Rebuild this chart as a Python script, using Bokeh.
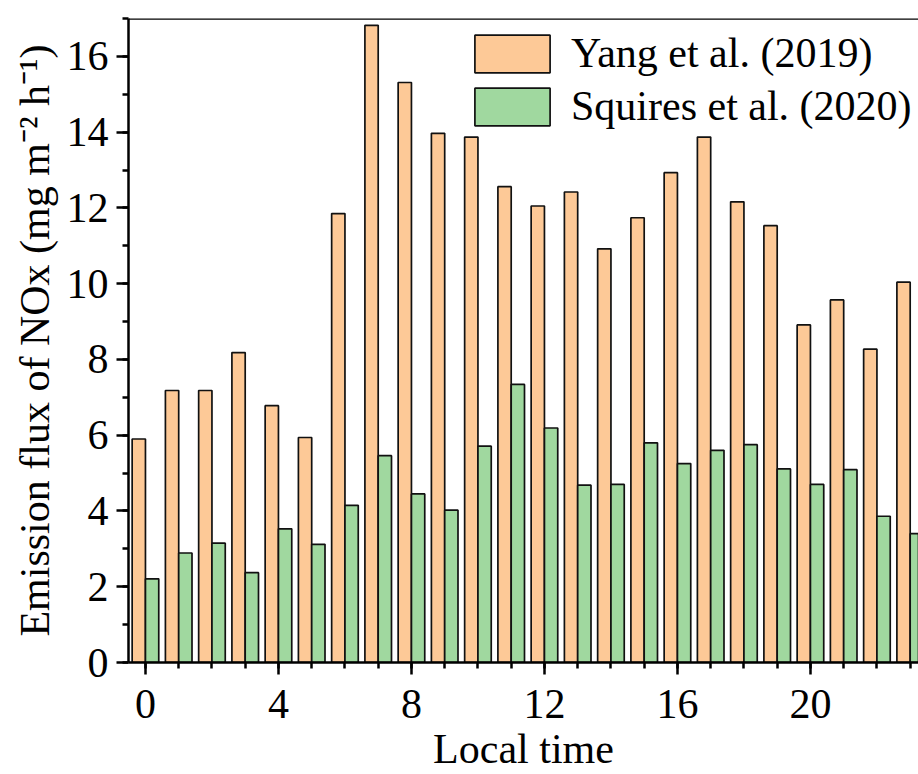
from bokeh.plotting import figure
from bokeh.models import (SingleIntervalTicker, Range1d, Span, Legend, LegendItem,
                          ColumnDataSource)
from bokeh.transform import dodge
from bokeh.embed import file_html
from bokeh.resources import INLINE

hours = list(range(24))
yang = [5.90, 7.18, 7.18, 8.18, 6.78, 5.94, 11.85, 16.82, 15.31, 13.97, 13.87, 12.56,
        12.05, 12.42, 10.92, 11.74, 12.93, 13.87, 12.16, 11.53, 8.91, 9.57, 8.27, 10.04]
squires = [2.21, 2.89, 3.15, 2.37, 3.53, 3.12, 4.15, 5.46, 4.45, 4.02, 5.71, 7.34,
           6.19, 4.68, 4.70, 5.80, 5.25, 5.60, 5.75, 5.11, 4.70, 5.09, 3.86, 3.40]
series_names = ["Yang et al. (2019)", "Squires et al. (2020)"]

FONT = "Liberation Serif"
FS = "42px"
LEG_FS = "42px"
ORANGE = "#FDC997"
GREEN = "#A0D89F"

src = ColumnDataSource(dict(hour=hours, yang=yang, squires=squires))

p = figure(width=918, height=774, output_backend="svg", toolbar_location=None,
           x_range=Range1d(-0.51, 23.25), y_range=Range1d(0, 17),
           min_border_left=128, min_border_right=0, min_border_top=18,
           min_border_bottom=112)

r1 = p.vbar(x=dodge("hour", -0.2, range=p.x_range), top="yang", width=0.4, source=src,
            fill_color=ORANGE, line_color="#111111", line_width=1.7)
r2 = p.vbar(x=dodge("hour", 0.2, range=p.x_range), top="squires", width=0.4, source=src,
            fill_color=GREEN, line_color="#111111", line_width=1.7)

p.outline_line_color = None
p.xgrid.visible = False
p.ygrid.visible = False
p.background_fill_color = "white"
p.border_fill_color = "white"

p.add_layout(Span(location=17, dimension="width", line_color="black", line_width=2.5))

p.xaxis.ticker = SingleIntervalTicker(interval=4, num_minor_ticks=4)
p.yaxis.ticker = SingleIntervalTicker(interval=2, num_minor_ticks=2)

for ax in (p.xaxis[0], p.yaxis[0]):
    ax.axis_line_width = 2.5
    ax.axis_line_color = "black"
    ax.major_tick_line_width = 2.5
    ax.minor_tick_line_width = 2.5
    ax.major_tick_line_color = "black"
    ax.minor_tick_line_color = "black"
    ax.major_tick_in = 0
    ax.major_tick_out = 12
    ax.minor_tick_in = 0
    ax.minor_tick_out = 6
    ax.major_label_text_font = FONT
    ax.major_label_text_font_size = FS
    ax.major_label_text_color = "black"
    ax.axis_label_text_font = FONT
    ax.axis_label_text_font_size = FS
    ax.axis_label_text_font_style = "normal"
    ax.axis_label_text_color = "black"

p.xaxis.axis_label = "Local time"
p.yaxis.axis_label = "Emission flux of NOx (mg m\u207b\u00b2 h\u207b\u00b9)"
p.xaxis.major_label_standoff = 15
p.yaxis.major_label_standoff = 8
p.xaxis.axis_label_standoff = 5
p.yaxis.axis_label_standoff = 6

legend = Legend(items=[LegendItem(label=series_names[0], renderers=[r1]),
                       LegendItem(label=series_names[1], renderers=[r2])],
                location=(337, 532), padding=0, margin=0, spacing=5,
                glyph_width=94, glyph_height=47, label_standoff=12,
                label_text_font=FONT, label_text_font_size=LEG_FS,
                label_text_color="black",
                background_fill_alpha=0, border_line_alpha=0)
p.add_layout(legend)

open("out.html", "w").write(file_html(p, INLINE))
